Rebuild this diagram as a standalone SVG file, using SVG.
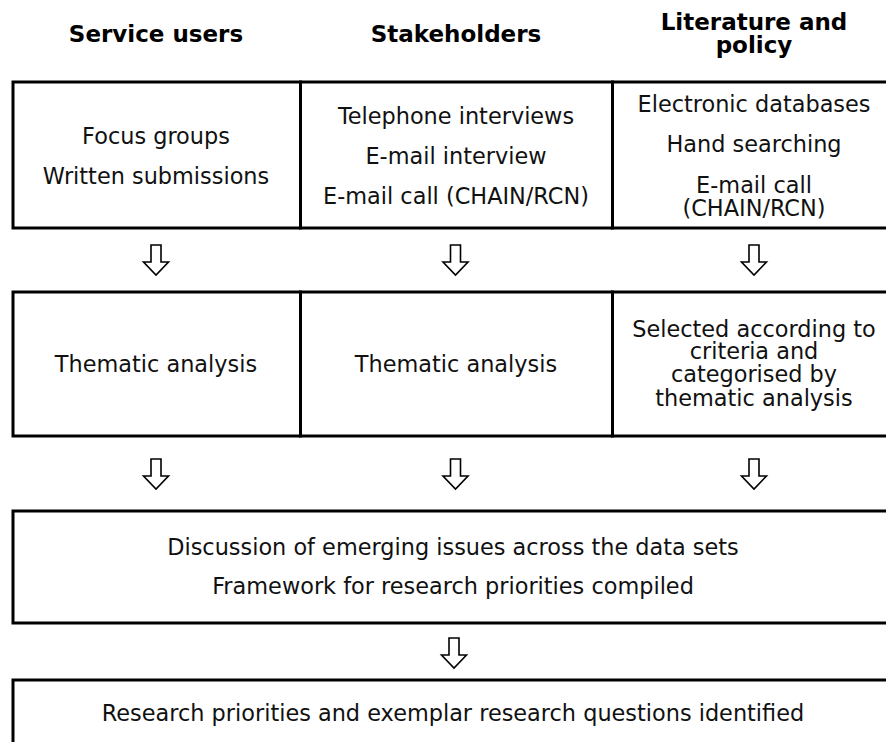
<svg xmlns="http://www.w3.org/2000/svg" width="886" height="742" viewBox="0 0 886 742">
<defs>
<style>
.box{fill:#fff;stroke:#000;stroke-width:3}
.hd{font-family:"DejaVu Sans",Verdana,sans-serif;font-weight:bold;font-size:23px;fill:#000;text-anchor:middle}
.tx{font-family:"DejaVu Sans",Verdana,sans-serif;font-size:22.4px;fill:#111;text-anchor:middle}
.arr{fill:#fff;stroke:#000;stroke-width:1.6;stroke-linejoin:miter}
</style>
<path id="dn" d="M-5,0 h10 v17 h7.5 l-12.5,13 l-12.5,-13 h7.5 z"/>
</defs>
<rect width="886" height="742" fill="#fff"/>

<g id="headers">
<text class="hd" x="156" y="42">Service users</text>
<text class="hd" x="456" y="42">Stakeholders</text>
<text class="hd" x="754" y="30">Literature and</text>
<text class="hd" x="754" y="53">policy</text>
</g>

<g id="n-service-users-methods">
<rect class="box" x="13" y="82" width="287.5" height="146"/>
<text class="tx" x="156" y="144">Focus groups</text>
<text class="tx" x="156" y="184">Written submissions</text>
</g>
<g id="n-stakeholders-methods">
<rect class="box" x="300.5" y="82" width="312" height="146"/>
<text class="tx" x="456" y="124">Telephone interviews</text>
<text class="tx" x="456" y="164">E-mail interview</text>
<text class="tx" x="456" y="204">E-mail call (CHAIN/RCN)</text>
</g>
<g id="n-literature-methods">
<rect class="box" x="612.5" y="82" width="290" height="146"/>
<text class="tx" x="754" y="112">Electronic databases</text>
<text class="tx" x="754" y="152">Hand searching</text>
<text class="tx" x="754" y="193">E-mail call</text>
<text class="tx" x="754" y="216">(CHAIN/RCN)</text>
</g>

<g id="n-service-users-analysis">
<rect class="box" x="13" y="292" width="287.5" height="144"/>
<text class="tx" x="156" y="372">Thematic analysis</text>
</g>
<g id="n-stakeholders-analysis">
<rect class="box" x="300.5" y="292" width="312" height="144"/>
<text class="tx" x="456" y="372">Thematic analysis</text>
</g>
<g id="n-literature-analysis">
<rect class="box" x="612.5" y="292" width="290" height="144"/>
<text class="tx" x="754" y="337">Selected according to</text>
<text class="tx" x="754" y="359">criteria and</text>
<text class="tx" x="754" y="382">categorised by</text>
<text class="tx" x="754" y="406">thematic analysis</text>
</g>

<g id="n-discussion">
<rect class="box" x="13" y="511" width="889" height="112"/>
<text class="tx" x="453" y="555">Discussion of emerging issues across the data sets</text>
<text class="tx" x="453" y="594">Framework for research priorities compiled</text>
</g>

<g id="n-priorities">
<rect class="box" x="13" y="680" width="889" height="90"/>
<text class="tx" x="453" y="721">Research priorities and exemplar research questions identified</text>
</g>

<g id="connectors">
<use href="#dn" class="arr" x="156" y="245"/>
<use href="#dn" class="arr" x="455.5" y="245"/>
<use href="#dn" class="arr" x="754" y="245"/>
<use href="#dn" class="arr" x="156" y="459"/>
<use href="#dn" class="arr" x="455.5" y="459"/>
<use href="#dn" class="arr" x="754" y="459"/>
<use href="#dn" class="arr" x="454" y="638"/>
</g>
</svg>
